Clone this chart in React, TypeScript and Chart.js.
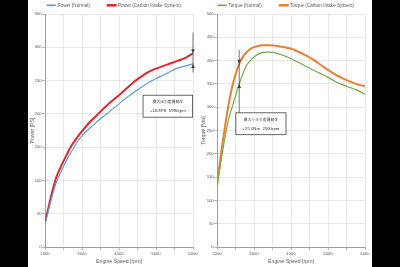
import React, { useEffect, useRef } from 'react';
import { Chart, registerables } from 'chart.js';

Chart.register(...registerables);

// ---- data ----
const rpm = [2000, 2100, 2200, 2300, 2400, 2500, 2600, 2700, 2800, 2900, 3000, 3200, 3400, 3600, 3800, 4000, 4200, 4400, 4600, 4800, 5000, 5200, 5400, 5600, 5800, 6000];
const powerNormal = [34, 56, 78, 96, 109, 121, 132, 142, 151, 160, 167, 178, 188, 197, 206, 215, 224, 232, 240, 247, 253, 258, 264, 269, 272, 275];
const powerCarbon = [37, 61, 84, 104, 117, 129, 140, 151, 159, 167, 174, 187, 198, 209, 219, 228, 238, 248, 256, 263, 268, 272, 276, 280, 284, 291];
const torqueNormal = [130, 180, 228, 270, 298, 324, 350, 372, 390, 400, 408, 417, 418, 416, 411, 404, 396, 388, 380, 372, 364, 355, 348, 342, 336, 328];
const torqueCarbon = [131, 195, 250, 300, 340, 370, 393, 408, 418, 425, 429, 433, 433, 432, 429, 426, 419, 411, 402, 391, 380, 370, 362, 355, 349, 345];

const xTickLabels = ['2000', '3000', '4000', '5000', '6000'];
const powerTicks = [0, 50, 100, 150, 200, 250, 300, 350];
const torqueTicks = [0, 50, 100, 150, 200, 250, 300, 350, 400, 450, 500];

// annotation anchors (data units)
const powerNoteLines = ['最大出力差異発生', '+16.8PS  5990rpm'];
const powerArrowRpm = [6000];
const powerArrowSpan = [322, 262];
const powerBoxRpm = [4650, 5990];
const powerBoxVal = [228, 195];

const torqueNoteLines = ['最大トルク差異発生', '+25.0Nm  2560rpm'];
const torqueArrowRpm = [2600];
const torqueArrowSpan = [423, 288];
const torqueBoxRpm = [2510, 3865];
const torqueBoxVal = [288, 241];

const TXT = '#595959';
const GRID = '#d9d9d9';
const AXIS = '#8c8c8c';
const SANS = '"Liberation Sans", Arial, sans-serif';

function pts(ys: number[]) {
  return rpm.map((r, i) => ({ x: r, y: ys[i] }));
}

function notePlugin(note: any) {
  return {
    id: 'diffNote',
    afterDatasetsDraw(chart: any) {
      const { ctx, scales } = chart;
      const x = scales.x;
      const y = scales.y;
      ctx.save();
      const ax = x.getPixelForValue(note.arrowRpm);
      ctx.strokeStyle = '#3a3a3a';
      ctx.lineWidth = 0.7;
      ctx.beginPath();
      ctx.moveTo(ax, y.getPixelForValue(note.span[0]));
      ctx.lineTo(ax, y.getPixelForValue(note.span[1]));
      ctx.stroke();
      ctx.fillStyle = '#3a3a3a';
      const tipDown = y.getPixelForValue(note.upper);
      ctx.beginPath();
      ctx.moveTo(ax, tipDown);
      ctx.lineTo(ax - 1.8, tipDown - 4);
      ctx.lineTo(ax + 1.8, tipDown - 4);
      ctx.closePath();
      ctx.fill();
      const tipUp = y.getPixelForValue(note.lower);
      ctx.beginPath();
      ctx.moveTo(ax, tipUp);
      ctx.lineTo(ax - 1.8, tipUp + 4);
      ctx.lineTo(ax + 1.8, tipUp + 4);
      ctx.closePath();
      ctx.fill();
      const x1 = x.getPixelForValue(note.boxRpm[0]);
      const x2 = x.getPixelForValue(note.boxRpm[1]);
      const y1 = y.getPixelForValue(note.boxVal[0]);
      const y2 = y.getPixelForValue(note.boxVal[1]);
      ctx.fillStyle = '#ffffff';
      ctx.fillRect(x1, y1, x2 - x1, y2 - y1);
      ctx.lineWidth = 0.8;
      ctx.strokeStyle = '#404040';
      ctx.strokeRect(x1, y1, x2 - x1, y2 - y1);
      const cx = (x1 + x2) / 2;
      ctx.fillStyle = '#333333';
      ctx.textAlign = 'center';
      ctx.textBaseline = 'middle';
      ctx.font = '3.8px "Noto Sans CJK JP", sans-serif';
      ctx.fillText(note.lines[0], cx, y1 + (y2 - y1) * 0.3);
      ctx.font = '4.3px ' + SANS;
      ctx.fillText(note.lines[1], cx, y1 + (y2 - y1) * 0.73);
      ctx.restore();
    },
  };
}

function makeConfig(p: any): any {
  return {
    type: 'line',
    data: {
      datasets: [
        {
          label: p.labels[0],
          data: pts(p.series[0]),
          borderColor: p.colors[0],
          backgroundColor: p.colors[0],
          borderWidth: 1.2,
          pointRadius: 0,
          tension: 0.2,
          fill: false,
        },
        {
          label: p.labels[1],
          data: pts(p.series[1]),
          borderColor: p.colors[1],
          backgroundColor: p.colors[1],
          borderWidth: 2,
          pointRadius: 0,
          tension: 0.2,
          fill: false,
        },
      ],
    },
    options: {
      responsive: false,
      maintainAspectRatio: false,
      animation: false,
      devicePixelRatio: 1,
      layout: { padding: { top: -15, left: 0, right: 0, bottom: 0 } },
      plugins: {
        tooltip: { enabled: false },
        legend: {
          display: true,
          position: 'top',
          align: 'center',
          maxHeight: 29,
          labels: {
            boxWidth: 8,
            boxHeight: 0.5,
            padding: 18,
            color: TXT,
            font: { size: 4.6, family: SANS },
          },
        },
      },
      scales: {
        x: {
          type: 'linear',
          min: 2000,
          max: 6000,
          ticks: {
            stepSize: 500,
            autoSkip: false,
            maxRotation: 0,
            padding: 1,
            color: TXT,
            font: { size: 4.2, family: SANS },
            callback: (v: number) => (xTickLabels.includes(String(v)) ? String(v) : ''),
          },
          grid: { color: GRID, lineWidth: 0.6, tickLength: 3, tickColor: AXIS },
          border: { color: AXIS, width: 0.8 },
          title: {
            display: true,
            text: 'Engine Speed [rpm]',
            color: TXT,
            font: { size: 5.2, family: SANS },
            padding: { top: 0, bottom: 2.2 },
          },
          afterFit: (s: any) => {
            s.height = 20;
          },
        },
        y: {
          min: 0,
          max: p.ticks[p.ticks.length - 1],
          ticks: {
            stepSize: 50,
            padding: 0.3,
            color: TXT,
            font: { size: 4.2, family: SANS },
            callback: (v: number) => (p.ticks.includes(v) ? String(v) : ''),
          },
          grid: { color: GRID, lineWidth: 0.6, tickLength: 3, tickColor: AXIS },
          border: { color: AXIS, width: 0.8 },
          title: {
            display: true,
            text: p.yTitle,
            color: TXT,
            font: { size: 5.2, family: SANS },
            padding: { top: p.titleOffset, bottom: 0 },
          },
          afterFit: (s: any) => {
            s.width = 17;
          },
        },
        yR: {
          position: 'right',
          display: true,
          ticks: { display: false },
          grid: { display: false, drawTicks: false },
          border: { display: false },
          afterFit: (s: any) => {
            s.width = 7;
          },
        },
      },
    },
    plugins: [notePlugin(p.note)],
  };
}

function Panel({ cfg, left }: { cfg: any; left: number }) {
  const ref = useRef<HTMLCanvasElement | null>(null);
  useEffect(() => {
    if (!ref.current) return;
    const chart = new Chart(ref.current, cfg);
    return () => chart.destroy();
  }, []);
  return (
    <canvas
      ref={ref}
      width={172}
      height={267}
      style={{ position: 'absolute', left, top: 0, width: 172, height: 267 }}
    />
  );
}

const powerCfg = makeConfig({
  labels: ['Power (Normal)', 'Power (Carbon Intake System)'],
  series: [powerNormal, powerCarbon],
  colors: ['#5b9bd5', '#e0262b'],
  ticks: powerTicks,
  yTitle: 'Power [PS]',
  titleOffset: 1.4,
  note: {
    lines: powerNoteLines,
    arrowRpm: powerArrowRpm[0],
    span: powerArrowSpan,
    upper: powerCarbon[powerCarbon.length - 1],
    lower: powerNormal[powerNormal.length - 1],
    boxRpm: powerBoxRpm,
    boxVal: powerBoxVal,
  },
});

const torqueIdx = rpm.indexOf(torqueArrowRpm[0]);
const torqueCfg = makeConfig({
  labels: ['Torque (Normal)', 'Torque (Carbon Intake System)'],
  series: [torqueNormal, torqueCarbon],
  colors: ['#70ad47', '#ed7d31'],
  ticks: torqueTicks,
  yTitle: 'Torque [Nm]',
  titleOffset: 0.6,
  note: {
    lines: torqueNoteLines,
    arrowRpm: torqueArrowRpm[0],
    span: torqueArrowSpan,
    upper: torqueCarbon[torqueIdx],
    lower: torqueNormal[torqueIdx],
    boxRpm: torqueBoxRpm,
    boxVal: torqueBoxVal,
  },
});

export default function App() {
  return (
    <div style={{ position: 'fixed', left: 0, top: 0, width: 400, height: 267, background: '#000', overflow: 'hidden' }}>
      <div style={{ position: 'absolute', left: 28, top: 0, width: 344, height: 267, background: '#fff' }} />
      <Panel cfg={powerCfg} left={28} />
      <Panel cfg={torqueCfg} left={200} />
    </div>
  );
}
